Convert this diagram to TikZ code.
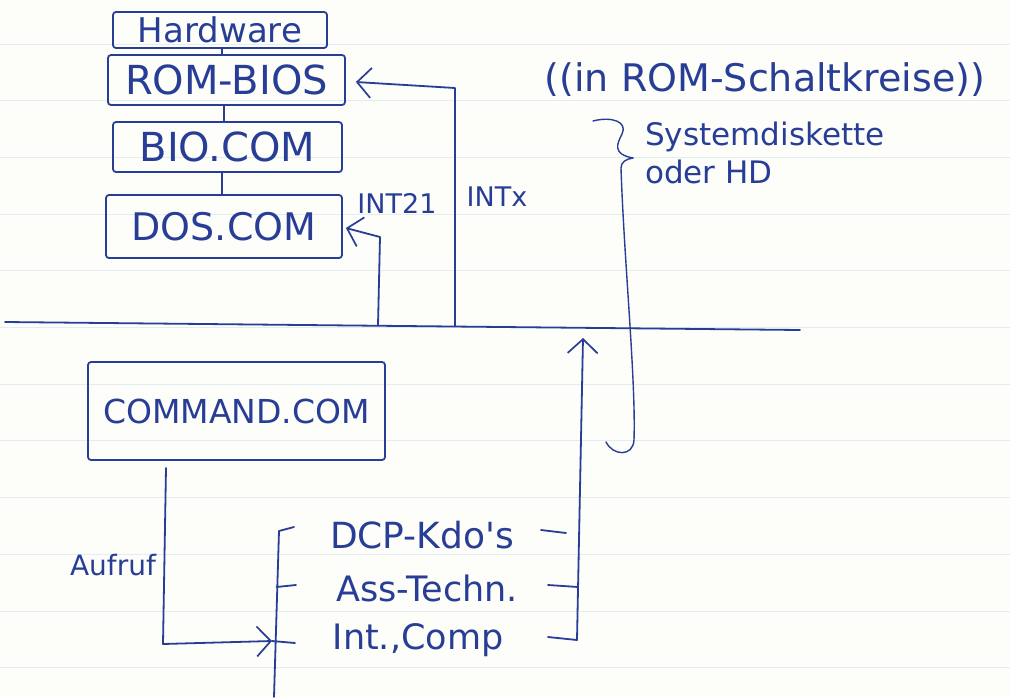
\documentclass[tikz,border=0pt]{standalone}
\usepackage{fontspec}
\setmainfont{DejaVu Sans}[Ligatures=TeXOff]
\usetikzlibrary{arrows.meta,calc}

\definecolor{ink}{RGB}{40,62,150}
\definecolor{paper}{RGB}{253,253,249}
\definecolor{ruling}{RGB}{226,236,243}

\newcommand{\fsz}[1]{\fontsize{#1}{#1}\selectfont}

\tikzset{
  pen/.style={draw=ink, line width=1.8pt, line cap=round, line join=round},
  box/.style={pen, rounded corners=3pt, inner sep=0pt, text=ink},
  lbl/.style={text=ink, inner sep=0pt},
  arr/.style={pen, -{Straight Barb[length=14pt, width=30pt, line width=1.7pt]}},
}

\begin{document}
\begin{tikzpicture}[x=1pt, y=-1pt]
  % sheet of ruled paper
  \fill[paper] (0,0) rectangle (1010,697);
  \useasboundingbox (0,0) rectangle (1010,697);
  \foreach \k in {0,...,11}
    \draw[ruling, line width=0.9pt] (0,44+56.7*\k) -- (1010,44+56.7*\k);

  % resident part: the layered system files
  \node[box, minimum width=214pt, minimum height=36pt] (hw)  at (220,30)    {\fsz{34}Hardware};
  \node[box, minimum width=237pt, minimum height=50pt] (rom) at (226.5,80)  {\fsz{40}ROM-BIOS};
  \node[box, minimum width=229pt, minimum height=50pt] (bio) at (227.5,147) {\fsz{40}BIO.COM};
  \node[box, minimum width=236pt, minimum height=63pt] (dos) at (224,226.5) {\fsz{38}DOS.COM};

  \draw[pen] (hw.south -| 222,0) -- (rom.north -| 222,0);
  \draw[pen] (rom.south -| 224,0) -- (bio.north -| 224,0);
  \draw[pen] (bio.south -| 222,0) -- (dos.north -| 222,0);

  % dividing line
  \coordinate (divl) at (5,322);
  \coordinate (divr) at (800,330);
  \draw[pen] (divl) -- (divr);

  % interrupt calls from below
  \coordinate (intxbot)  at (455,326);
  \coordinate (int21bot) at (378,325.4);
  \draw[arr] (intxbot) -- (455,88) -- ([xshift=10pt,yshift=-2pt]rom.east);
  \draw[arr] (int21bot) -- (380,237) -- ([xshift=3pt,yshift=-1.5pt]dos.east);
  \node[lbl] (int21) at (397,203) {\fsz{27}INT21};
  \node[lbl] (intx)  at (497,197) {\fsz{27}INTx};

  % remarks on the right
  \node[lbl] (romsk) at (765,80) {\fsz{38}((in ROM-Schaltkreise))};
  \node[lbl, anchor=west] (sysd) at (645,137) {\fsz{31}Systemdiskette};
  \node[lbl, anchor=west] (odhd) at (645,172) {\fsz{31}oder HD};

  % brace with long lower arm
  \draw[pen, line width=1.4pt] (593,121) .. controls (612,116) and (628,122) .. (622,134)
        .. controls (617,144) and (612,154) .. (633,158);
  \draw[pen, line width=1.4pt] (633,158) .. controls (626,159) and (621,162) .. (621,168)
        .. controls (624,260) and (636,380) .. (634,440)
        .. controls (633,457) and (613,456) .. (606,442);

  % transient part
  \node[box, minimum width=297pt, minimum height=98pt] (cmd) at (236.5,411) {\fsz{33}COMMAND.COM};

  \node[lbl] (dcp) at (422,535) {\fsz{36}DCP-Kdo's};
  \node[lbl] (ass) at (427,588) {\fsz{35}Ass-Techn.};
  \node[lbl] (int) at (418,640) {\fsz{35}Int.,Comp};

  % left bracket round the programs
  \coordinate (lbtop) at (279,531);
  \coordinate (lbbot) at (274,697);
  \coordinate (lbmid) at (276.5,587);
  \coordinate (callend) at (272,641);
  \draw[pen] (294,527) -- (lbtop) -- (lbbot);
  \draw[pen] (lbmid) -- (296,585);
  \draw[pen] (callend) -- (295,643);

  % call from COMMAND.COM
  \coordinate (callstart) at (166,468);
  \node[lbl] (aufruf) at (113,565) {\fsz{28}Aufruf};
  \draw[arr] (callstart) -- (163,644) -- (callend);

  % right bracket leading up to the system calls
  \coordinate (upbot) at (577,640);
  \coordinate (uptop) at (583,338);
  \draw[arr] (upbot) -- (uptop);
  \draw[pen] (541,530) -- (566,533);
  \draw[pen] (548,585) -- (578,587);
  \draw[pen] (548,637) -- (upbot);
\end{tikzpicture}
\end{document}
